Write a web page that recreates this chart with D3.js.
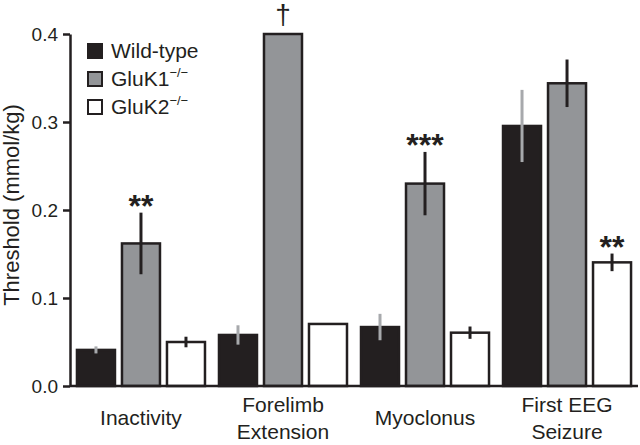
<!DOCTYPE html>
<html><head><meta charset="utf-8">
<script src="https://cdn.jsdelivr.net/npm/d3@7"></script>
<style>body{margin:0;background:#fff}svg{display:block}text{font-family:"Liberation Sans",Arial,sans-serif;fill:#231f20}</style>
</head><body>
<svg id="c" width="640" height="445"></svg>
<script>
const categories = [["Inactivity"], ["Forelimb", "Extension"], ["Myoclonus"], ["First EEG", "Seizure"]];
const groups = ["Wild-type", "GluK1", "GluK2"];
const wildType = [0.041, 0.058, 0.067, 0.2955];
const wildTypeErr = [0.004, 0.011, 0.015, 0.041];
const gluK1 = [0.162, 0.400, 0.230, 0.344];
const gluK1Err = [0.035, 0, 0.036, 0.027];
const gluK2 = [0.050, 0.0705, 0.0606, 0.1405];
const gluK2Err = [0.006, 0, 0.007, 0.010];
const yTicks = [0.0, 0.1, 0.2, 0.3, 0.4];
const annotations = [
  {cat: 0, grp: 1, text: "**"},
  {cat: 1, grp: 1, text: "†"},
  {cat: 2, grp: 1, text: "***"},
  {cat: 3, grp: 2, text: "**"}
];

const values = [wildType, gluK1, gluK2];
const errs = [wildTypeErr, gluK1Err, gluK2Err];
const fills = ["#231f20", "#939598", "#ffffff"];
const errColors = ["#a7a9ac", "#231f20", "#231f20"];
const dark = "#231f20";

const svg = d3.select("#c");
const y = d3.scaleLinear().domain([0, 0.4]).range([386, 34]);
const x0 = d3.scaleBand().domain(d3.range(categories.length)).range([70, 638]).paddingInner(0.0845).paddingOuter(0.042);
const x1 = d3.scaleBand().domain(d3.range(groups.length)).range([0, x0.bandwidth()]).paddingInner(0.111);

const data = [];
categories.forEach((c, i) => groups.forEach((g, j) => data.push({i, j, v: values[j][i], e: errs[j][i]})));

// bars
svg.append("g").selectAll("rect").data(data).join("rect")
  .attr("x", d => x0(d.i) + x1(d.j) + 1)
  .attr("y", d => y(d.v))
  .attr("width", x1.bandwidth() - 2)
  .attr("height", d => y(0) - y(d.v))
  .attr("fill", d => fills[d.j])
  .attr("stroke", dark).attr("stroke-width", 2.5);

// error bars
svg.append("g").selectAll("line").data(data.filter(d => d.e > 0)).join("line")
  .attr("x1", d => x0(d.i) + x1(d.j) + x1.bandwidth() / 2)
  .attr("x2", d => x0(d.i) + x1(d.j) + x1.bandwidth() / 2)
  .attr("y1", d => y(d.v + d.e))
  .attr("y2", d => y(d.v - d.e))
  .attr("stroke", d => errColors[d.j]).attr("stroke-width", 3);

// baseline
svg.append("line").attr("x1", 70).attr("x2", 638).attr("y1", y(0)).attr("y2", y(0))
  .attr("stroke", dark).attr("stroke-width", 2.5);

// y axis
const yAxis = d3.axisLeft(y).tickValues(yTicks).tickFormat(d3.format(".1f")).tickSize(7).tickSizeOuter(0);
const ga = svg.append("g").attr("transform", "translate(70,0)").call(yAxis);
ga.select(".domain").attr("stroke", dark).attr("stroke-width", 2.5);
ga.selectAll(".tick line").attr("stroke", dark).attr("stroke-width", 2.5);
ga.selectAll(".tick text").attr("font-size", 19).attr("x", -12).attr("dy", "0.36em")
  .style("font-family", "'Liberation Sans',Arial,sans-serif").attr("fill", dark);

// y label
svg.append("text").attr("transform", "translate(19,205) rotate(-90)")
  .attr("text-anchor", "middle").attr("font-size", 22).text("Threshold (mmol/kg)");

// x labels
categories.forEach((c, i) => {
  const cx = x0(i) + x0.bandwidth() / 2;
  const t = svg.append("text").attr("text-anchor", "middle").attr("font-size", 21);
  if (c.length === 1) {
    t.append("tspan").attr("x", cx).attr("y", 425).text(c[0]);
  } else {
    t.append("tspan").attr("x", cx).attr("y", 412).text(c[0]);
    t.append("tspan").attr("x", cx).attr("y", 439).text(c[1]);
  }
});

// annotations
annotations.forEach(a => {
  const cx = x0(a.cat) + x1(a.grp) + x1.bandwidth() / 2;
  const top = y(values[a.grp][a.cat] + errs[a.grp][a.cat]);
  const isDagger = a.text === "†";
  svg.append("text").attr("x", cx).attr("y", isDagger ? top - 10 : top + 4)
    .attr("text-anchor", "middle").attr("font-size", isDagger ? 28 : 32)
    .attr("font-weight", isDagger ? "normal" : "bold")
    .text(a.text);
});

// legend
const lg = svg.append("g");
const legendLabels = [["Wild-type", ""], ["GluK1", "−/−"], ["GluK2", "−/−"]];
legendLabels.forEach((l, j) => {
  const yy = 43 + j * 28;
  lg.append("rect").attr("x", 88).attr("y", yy + 1).attr("width", 14).attr("height", 14)
    .attr("fill", fills[j]).attr("stroke", dark).attr("stroke-width", 2);
  const t = lg.append("text").attr("x", 111).attr("y", yy + 15).attr("font-size", 21).text(l[0]);
  if (l[1]) t.append("tspan").attr("dy", -9).attr("font-size", 13).text(l[1]);
});
</script>
</body></html>
